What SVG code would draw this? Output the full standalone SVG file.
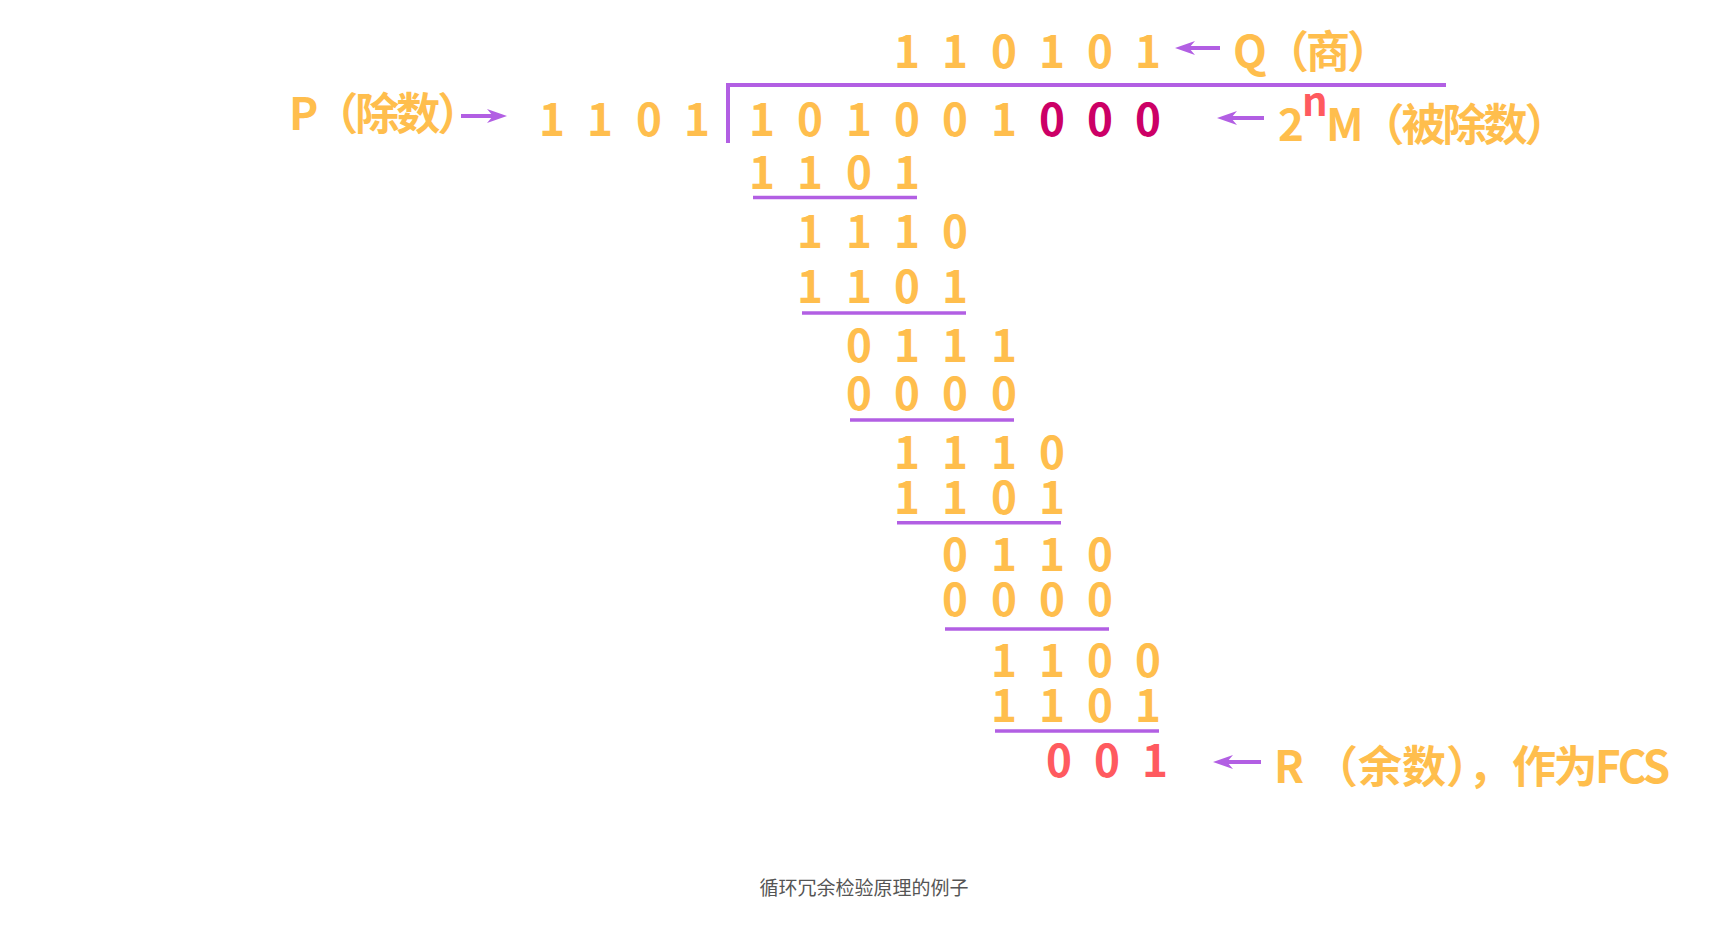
<svg xmlns="http://www.w3.org/2000/svg" width="1730" height="932" viewBox="0 0 1730 932">
<style>
.d{font-family:"Noto Sans CJK SC","Liberation Sans",sans-serif;font-weight:bold;font-size:44px;fill:#FFBE4D;text-anchor:middle}
.lab{font-family:"Noto Sans CJK SC","Liberation Sans",sans-serif;font-weight:bold;font-size:44px;fill:#FFBE4D}
.tight{letter-spacing:-3px}
.mag{fill:#CC0066}
.red{fill:#FF5A5F}
.ln{stroke:#B25FE3;stroke-width:4;fill:none}
.ul{stroke:#B25FE3;stroke-width:3.5;fill:none}
.ar{stroke:#B25FE3;stroke-width:4;fill:none;marker-end:url(#ah)}
.cap{font-family:"Noto Sans CJK SC",sans-serif;font-size:19px;fill:#555555;text-anchor:middle}
</style>
<defs>
<marker id="ah" markerUnits="userSpaceOnUse" viewBox="0 -7 20 14" markerWidth="20" markerHeight="14" refX="8" refY="0" orient="auto">
<path d="M0,-7 L20,0 L0,7 L6,0 Z" fill="#B25FE3"/>
</marker>
</defs>
<rect width="1730" height="932" fill="#ffffff"/>
<g id="connectors">
<line class="ln" x1="728" y1="85" x2="1446" y2="85"/>
<line class="ln" x1="728" y1="83" x2="728" y2="143"/>
<line class="ar" x1="461" y1="116" x2="495" y2="116"/>
<line class="ar" x1="1220" y1="48" x2="1187" y2="48"/>
<line class="ar" x1="1264" y1="118" x2="1229" y2="118"/>
<line class="ar" x1="1261" y1="762" x2="1225" y2="762"/>
<line class="ul" x1="753" y1="197.5" x2="917" y2="197.5"/>
<line class="ul" x1="802" y1="313" x2="966" y2="313"/>
<line class="ul" x1="850" y1="420" x2="1014" y2="420"/>
<line class="ul" x1="897" y1="522.7" x2="1061" y2="522.7"/>
<line class="ul" x1="945" y1="629" x2="1109" y2="629"/>
<line class="ul" x1="995" y1="731" x2="1159" y2="731"/>
</g>
<g id="divisor-label"><text class="lab" x="289" y="130">P<tspan class="tight" dx="-4">（除数）</tspan></text></g>
<g id="divisor"><text class="d" x="552 576 600 624 649 673 697" y="136">1 1 0 1</text></g>
<g id="dividend"><text class="d" x="762 786 810 834 859 883 907 931 955 979 1004 1028 1052 1076 1100 1124 1148" y="136"><tspan>1 0 1 0 0 1 </tspan><tspan class="mag">0 0 0</tspan></text></g>
<g id="dividend-label"><text class="lab" x="1278" y="141">2<tspan class="red" x="1302" y="116" font-size="40">n</tspan><tspan x="1326" y="141">M</tspan><tspan class="tight" dx="-3">（被除数）</tspan></text></g>
<g id="quotient"><text class="d" x="907 931 955 979 1004 1028 1052 1076 1100 1124 1148" y="68">1 1 0 1 0 1</text></g>
<g id="quotient-label"><text class="lab" x="1233" y="68">Q<tspan class="tight" dx="-2">（商）</tspan></text></g>
<g id="row1"><text class="d" x="762 786 810 834 859 883 907" y="189">1 1 0 1</text></g>
<g id="row2"><text class="d" x="810 834 859 883 907 931 955" y="248">1 1 1 0</text></g>
<g id="row3"><text class="d" x="810 834 859 883 907 931 955" y="303">1 1 0 1</text></g>
<g id="row4"><text class="d" x="859 883 907 931 955 979 1004" y="362">0 1 1 1</text></g>
<g id="row5"><text class="d" x="859 883 907 931 955 979 1004" y="410">0 0 0 0</text></g>
<g id="row6"><text class="d" x="907 931 955 979 1004 1028 1052" y="469">1 1 1 0</text></g>
<g id="row7"><text class="d" x="907 931 955 979 1004 1028 1052" y="514">1 1 0 1</text></g>
<g id="row8"><text class="d" x="955 979 1004 1028 1052 1076 1100" y="571">0 1 1 0</text></g>
<g id="row9"><text class="d" x="955 979 1004 1028 1052 1076 1100" y="616">0 0 0 0</text></g>
<g id="row10"><text class="d" x="1004 1028 1052 1076 1100 1124 1148" y="677">1 1 0 0</text></g>
<g id="row11"><text class="d" x="1004 1028 1052 1076 1100 1124 1148" y="722">1 1 0 1</text></g>
<g id="remainder"><text class="d red" x="1059 1083 1107 1131 1155" y="777">0 0 1</text></g>
<g id="remainder-label"><text class="lab" x="1274" y="783">R （余数），<tspan letter-spacing="-2.5">作为FCS</tspan></text></g>
<g id="caption"><text class="cap" x="864" y="895">循环冗余检验原理的例子</text></g>
</svg>
